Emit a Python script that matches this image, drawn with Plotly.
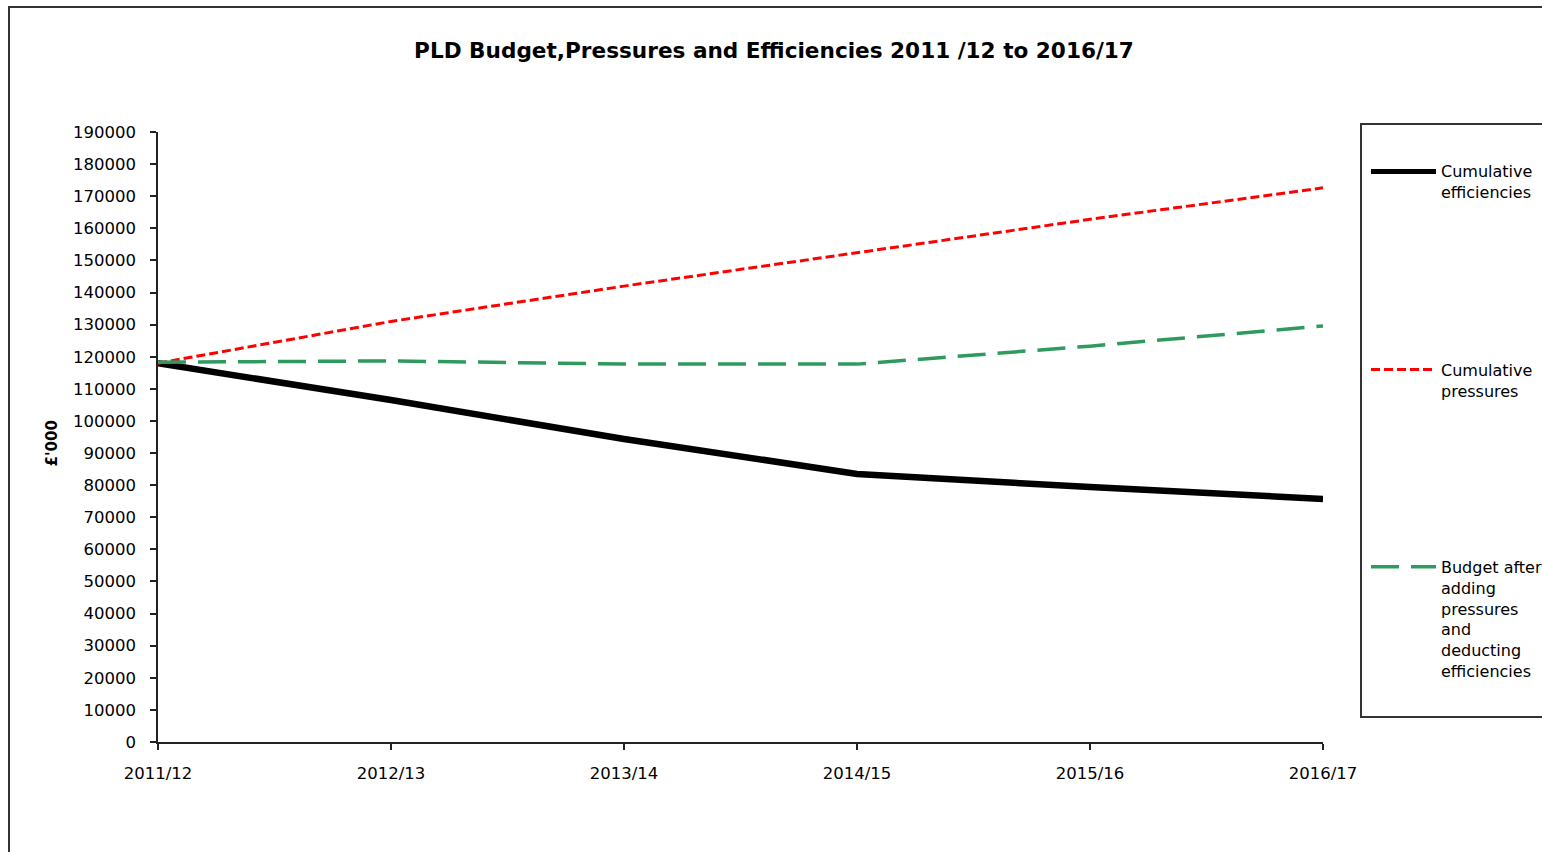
import plotly.graph_objects as go

years = ["2011/12", "2012/13", "2013/14", "2014/15", "2015/16", "2016/17"]
efficiencies = [118000, 106500, 94400, 83500, 79400, 75700]
pressures = [118000, 131000, 142000, 152300, 162800, 172600]
budget_after = [118300, 118700, 117700, 117700, 123300, 129600]

series_names = ["Cumulative<br>efficiencies", "Cumulative<br>pressures",
                "Budget after<br>adding<br>pressures<br>and<br>deducting<br>efficiencies"]

W, H = 1542, 852
L, R, T, B = 158, 1323, 132, 742


def xp(px):
    return (px - L) / (R - L)


def yp(py):
    return (B - py) / (B - T)


FONT = "DejaVu Sans, Verdana, Arial, sans-serif"
GREEN = "#2E9A5E"

fig = go.Figure()
fig.add_trace(go.Scatter(x=years, y=efficiencies, mode="lines", name="Cumulative efficiencies",
                         line=dict(color="#000000", width=6.5), showlegend=False))
fig.add_trace(go.Scatter(x=years, y=pressures, mode="lines", name="Cumulative pressures",
                         line=dict(color="#FF0000", width=3, dash="9px,4px"), showlegend=False))
fig.add_trace(go.Scatter(x=years, y=budget_after, mode="lines",
                         name="Budget after adding pressures and deducting efficiencies",
                         line=dict(color=GREEN, width=3.5, dash="28px,12px"), showlegend=False))

shapes = []
# outer chart frame (extends beyond the visible page)
shapes.append(dict(type="rect", xref="paper", yref="paper",
                   x0=xp(9), x1=xp(1700), y0=yp(1000), y1=yp(7),
                   line=dict(color="#333333", width=2), fillcolor="rgba(0,0,0,0)", layer="below"))
# legend box
shapes.append(dict(type="rect", xref="paper", yref="paper",
                   x0=xp(1361), x1=xp(1700), y0=yp(717), y1=yp(124),
                   line=dict(color="#333333", width=2), fillcolor="rgba(0,0,0,0)"))

legend_styles = [
    dict(color="#000000", width=5, dash="solid"),
    dict(color="#FF0000", width=3, dash="9px,4px"),
    dict(color=GREEN, width=3.5, dash="28px,12px"),
]
legend_line_y = [171.5, 369.5, 566.7]
legend_text_center = [182.0, 380.5, 619.7]

annotations = []
for name, st, ly, ty in zip(series_names, legend_styles, legend_line_y, legend_text_center):
    shapes.append(dict(type="line", xref="paper", yref="paper",
                       x0=xp(1371), x1=xp(1436), y0=yp(ly), y1=yp(ly),
                       line=st))
    annotations.append(dict(text=name, xref="paper", yref="paper",
                            x=xp(1439), y=yp(ty), xanchor="left", yanchor="middle",
                            align="left", showarrow=False,
                            font=dict(family=FONT, size=16, color="#000000")))

annotations.append(dict(text="<b>£'000</b>", xref="paper", yref="paper",
                        x=xp(51.5), y=yp(444), xanchor="center", yanchor="middle",
                        textangle=-90, showarrow=False,
                        font=dict(family=FONT, size=15, color="#000000")))

fig.update_layout(
    width=W, height=H,
    margin=dict(l=L, r=W - R, t=T, b=H - B, pad=0),
    paper_bgcolor="#FFFFFF", plot_bgcolor="#FFFFFF",
    title=dict(text="<b>PLD Budget,Pressures and Efficiencies 2011 /12 to 2016/17</b>",
               x=774 / W, xref="container", xanchor="center",
               y=1 - 50 / H, yref="container", yanchor="middle",
               font=dict(family=FONT, size=21.6, color="#000000")),
    xaxis=dict(type="category", range=[0, 5], showgrid=False, zeroline=False,
               showline=True, linecolor="#222222", linewidth=1.5,
               ticks="outside", ticklen=6, tickwidth=1.5, tickcolor="#222222",
               ticklabelstandoff=9,
               tickfont=dict(family=FONT, size=16.5, color="#000000")),
    yaxis=dict(range=[0, 190000], dtick=10000, tick0=0, showgrid=False, zeroline=False,
               showline=True, linecolor="#222222", linewidth=1.5,
               ticks="outside", ticklen=6, tickwidth=1.5, tickcolor="#222222",
               ticklabelstandoff=11, tickformat="d",
               tickfont=dict(family=FONT, size=16.5, color="#000000")),
    shapes=shapes,
    annotations=annotations,
    showlegend=False,
)

fig.write_html("out.html", config={"displayModeBar": False})
